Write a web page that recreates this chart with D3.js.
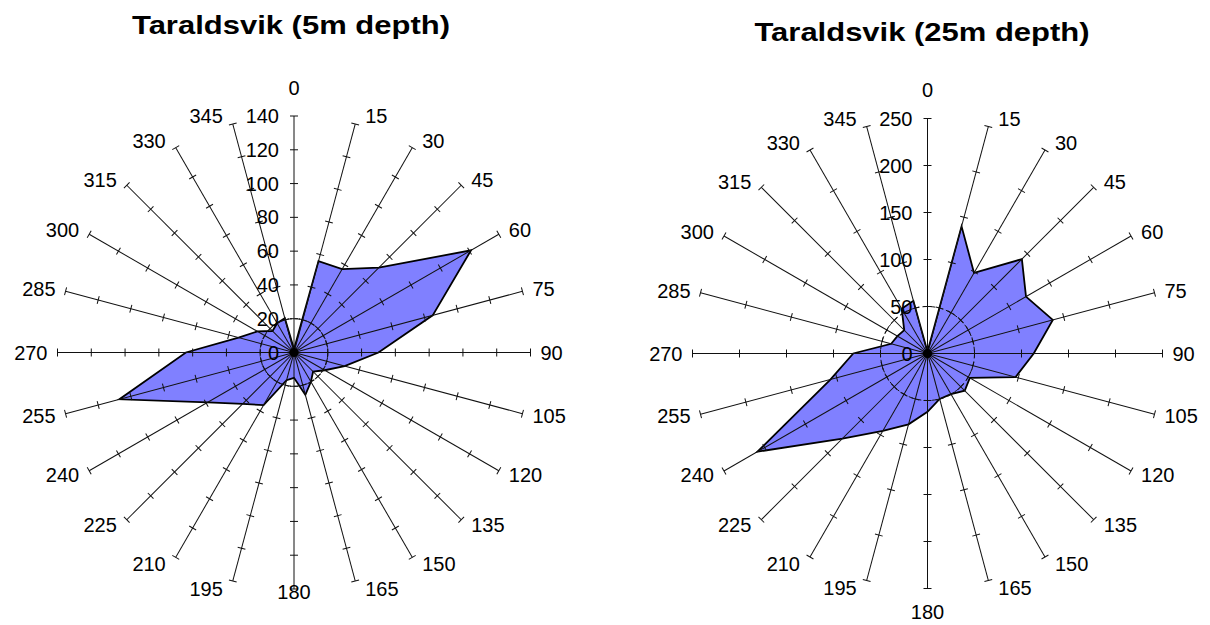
<!DOCTYPE html>
<html>
<head>
<meta charset="utf-8">
<script src="https://cdn.jsdelivr.net/npm/d3@7"></script>
<style>
  html, body { margin: 0; padding: 0; background: #fff; }
  svg { display: block; }
  text { font-family: "Liberation Sans", Arial, sans-serif; fill: #000; }
</style>
</head>
<body>
<svg id="chart" width="1210" height="625"></svg>
<script>
// Compass directions (degrees) shared by both radar panels
const directions = [0, 15, 30, 45, 60, 75, 90, 105, 120, 135, 150, 165,
                    180, 195, 210, 225, 240, 255, 270, 285, 300, 315, 330, 345];

// Counts per direction at 5 m depth
const depth5 = [2, 56, 57, 71, 121, 85, 50, 31, 21, 16, 20, 26,
                15, 17, 36, 43, 59, 107, 64, 34, 25, 18, 20, 21];

// Counts per direction at 25 m depth
const depth25 = [2, 140, 99, 142, 121, 138, 113, 97, 52, 56, 50, 50,
                 62, 78, 95, 128, 209, 107, 79, 40, 37, 35, 55, 58];

// Radial axis tick labels
const ticks5 = [0, 20, 40, 60, 80, 100, 120, 140];
const ticks25 = [0, 50, 100, 150, 200, 250];

const titles = ["Taraldsvik (5m depth)", "Taraldsvik (25m depth)"];

const svg = d3.select("#chart");

function drawRadar(cfg) {
  const g = svg.append("g").attr("transform", `translate(${cfg.cx},${cfg.cy})`);
  const maxV = cfg.ticks[cfg.ticks.length - 1];
  const r = d3.scaleLinear().domain([0, maxV]).range([0, cfg.radius]);
  const rad = d => d * Math.PI / 180;

  // Filled data polygon
  const line = d3.lineRadial()
    .angle((d, i) => rad(directions[i]))
    .radius(d => r(d))
    .curve(d3.curveLinearClosed);

  g.append("path")
    .datum(cfg.values)
    .attr("d", line)
    .attr("fill", "#8080ff")
    .attr("stroke", "#000")
    .attr("stroke-width", 1.8)
    .attr("stroke-linejoin", "miter");

  // Dashed ring at the first tick
  g.append("circle")
    .attr("r", r(cfg.ticks[1]))
    .attr("fill", "none")
    .attr("stroke", "#111")
    .attr("stroke-width", 1)
    .attr("stroke-dasharray", "5,3");

  // Spokes with tick marks
  const spokes = g.selectAll("g.spoke").data(directions).join("g")
    .attr("class", "spoke")
    .attr("transform", d => `rotate(${d})`);

  spokes.append("line")
    .attr("x1", 0).attr("y1", 0)
    .attr("x2", 0).attr("y2", -r(maxV))
    .attr("stroke", "#111")
    .attr("stroke-width", 1);

  spokes.selectAll("line.tick").data(cfg.ticks.slice(1)).join("line")
    .attr("class", "tick")
    .attr("x1", -4).attr("x2", 4)
    .attr("y1", d => -r(d)).attr("y2", d => -r(d))
    .attr("stroke", "#111")
    .attr("stroke-width", 1);

  // Centre hub
  g.append("circle").attr("r", 4.5).attr("fill", "#000");

  // Value labels along the north spoke
  g.selectAll("text.val").data(cfg.ticks).join("text")
    .attr("class", "val")
    .attr("x", -15)
    .attr("y", d => -r(d))
    .attr("dy", "0.35em")
    .attr("text-anchor", "end")
    .attr("font-size", 20)
    .text(d => d);

  // Direction labels outside the spokes
  const R = r(maxV);
  g.selectAll("text.dir").data(directions).join("text")
    .attr("class", "dir")
    .attr("font-size", 20)
    .attr("dy", "0.35em")
    .each(function (d) {
      const a = rad(d);
      const ex = R * Math.sin(a), ey = -R * Math.cos(a);
      const t = d3.select(this);
      if (d === 0) {
        t.attr("x", ex).attr("y", ey - 28.5).attr("text-anchor", "middle");
      } else if (d === 180) {
        t.attr("x", ex).attr("y", ey + cfg.southGap).attr("text-anchor", "middle");
      } else {
        const s = Math.sin(a) > 0 ? 1 : -1;
        t.attr("x", ex + s * 10)
         .attr("y", ey - 8 * Math.cos(a))
         .attr("text-anchor", s > 0 ? "start" : "end");
      }
    })
    .text(d => d);

  // Panel title
  svg.append("text")
    .attr("x", cfg.titleX)
    .attr("y", cfg.titleY)
    .attr("text-anchor", "middle")
    .attr("font-size", 26)
    .attr("font-weight", "bold")
    .attr("textLength", cfg.titleW)
    .attr("lengthAdjust", "spacingAndGlyphs")
    .text(cfg.title);
}

drawRadar({ cx: 294, cy: 352.5, radius: 236.5, ticks: ticks5, values: depth5, southGap: 3,
            title: titles[0], titleX: 291, titleY: 34, titleW: 318 });
drawRadar({ cx: 927.5, cy: 353.5, radius: 235, ticks: ticks25, values: depth25, southGap: 23,
            title: titles[1], titleX: 922, titleY: 41, titleW: 335 });
</script>
</body>
</html>
